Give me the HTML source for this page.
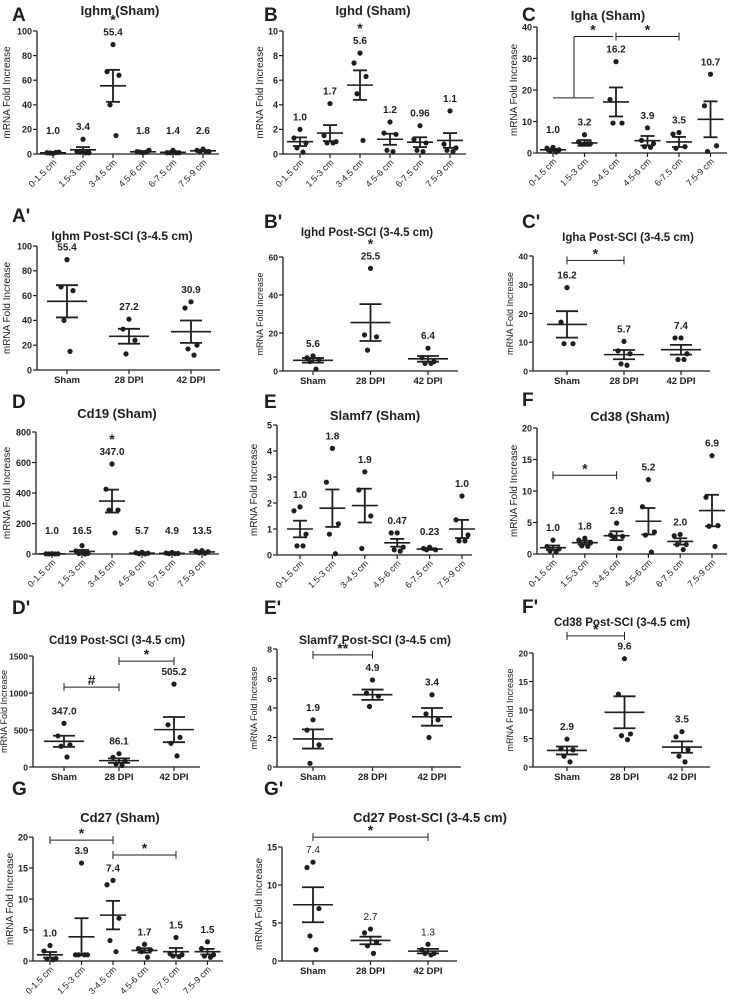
<!DOCTYPE html>
<html><head><meta charset="utf-8">
<style>
html,body{margin:0;padding:0;background:#fff;}
svg{display:block;font-family:"Liberation Sans",Arial,sans-serif;}
</style></head>
<body>
<svg id="fig" width="730" height="1002" viewBox="0 0 730 1002"></svg>
<script>
// ---------- data ----------
const distCats = ["0-1.5 cm","1.5-3 cm","3-4.5 cm","4.5-6 cm","6-7.5 cm","7.5-9 cm"];
const dpiCats = ["Sham","28 DPI","42 DPI"];

const A_ticks = [0,20,40,60,80,100];
const A_points = [[0.5,1,1.5,0.8,1.2],[12,2,1,1.5,1],[89,67,64,40,15],[1,2,3,1.5,1.5],[3,1,1,1,1],[4,3,2,2,2]];
const A_means = [1.0,3.4,55.4,1.8,1.4,2.6];
const A_sems = [0.3,2.2,13,0.4,0.4,0.5];
const A_labels = ["1.0","3.4","55.4","1.8","1.4","2.6"];
const A_stars = ["","","*","","",""];

const B_ticks = [0,2,4,6,8,10];
const B_points = [[2.0,1.3,0.9,0.5,0.15],[4.1,1.5,1.0,0.9,0.9],[8.2,7.4,6.3,4.9,1.1],[2.6,1.7,1.6,0.3,0.2],[2.3,1.2,0.9,0.3,0.2],[3.5,0.8,0.5,0.3,0.2]];
const B_means = [1.0,1.7,5.6,1.2,0.96,1.1];
const B_sems = [0.35,0.65,1.2,0.45,0.4,0.6];
const B_labels = ["1.0","1.7","5.6","1.2","0.96","1.1"];
const B_stars = ["","","*","","",""];

const C_ticks = [0,10,20,30,40];
const C_points = [[1.8,1.5,1,0.5,0.3],[5.8,3.5,3,2.8,3],[29,17,9.5,9.5],[8,4,3,2,1.8],[6.5,6,2,1.5],[25,15,2.3,0.5]];
const C_means = [1.0,3.2,16.2,3.9,3.5,10.7];
const C_sems = [0.3,0.9,4.6,1.5,1.6,5.7];
const C_labels = ["1.0","3.2","16.2","3.9","3.5","10.7"];
const C_sigFrom = [2];
const C_sigTo = [4];
const C_sigY = [37];
const C_sigText = ["*"];

const Ap_ticks = [0,20,40,60,80,100];
const Ap_points = [[89,67,64,40,15],[41,33,24,13],[55,50,20,17,12]];
const Ap_means = [55.4,27.2,30.9];
const Ap_sems = [13,6,9];
const Ap_labels = ["55.4","27.2","30.9"];

const Bp_ticks = [0,20,40,60];
const Bp_points = [[8,7,6,5,1],[54,19,18,11],[12,7,5,4,4]];
const Bp_means = [5.6,25.5,6.4];
const Bp_sems = [1.2,9.7,1.5];
const Bp_labels = ["5.6","25.5","6.4"];
const Bp_stars = ["","*",""];

const Cp_ticks = [0,10,20,30,40];
const Cp_points = [[29,17,9.5,9.5],[10.3,7,6,2.5,2],[11.5,11.5,6,4,4]];
const Cp_means = [16.2,5.7,7.4];
const Cp_sems = [4.6,1.6,1.7];
const Cp_labels = ["16.2","5.7","7.4"];
const Cp_sigFrom = [0];
const Cp_sigTo = [1];
const Cp_sigY = [38.5];
const Cp_sigText = ["*"];

const D_ticks = [0,200,400,600,800];
const D_points = [[2,1,1,0.5,0.5],[55,20,5,3,0],[590,425,288,288,138],[12,8,5,2,1],[10,6,4,2,2],[22,18,15,8,5]];
const D_means = [1.0,16.5,347,5.7,4.9,13.5];
const D_sems = [0.3,10,75,2,1.5,3];
const D_labels = ["1.0","16.5","347.0","5.7","4.9","13.5"];
const D_stars = ["","","*","","",""];

const E_ticks = [0,1,2,3,4,5];
const E_points = [[1.85,1.7,0.8,0.35,0.35],[4.1,2.8,1.2,0.8,0.05],[3.2,2.5,1.5,0.25],[0.85,0.85,0.3,0.2,0.15],[0.3,0.25,0.2,0.2],[2.27,1.35,0.77,0.54,0.54]];
const E_means = [1.0,1.8,1.9,0.47,0.23,1.0];
const E_sems = [0.32,0.72,0.65,0.15,0.03,0.35];
const E_labels = ["1.0","1.8","1.9","0.47","0.23","1.0"];

const F_ticks = [0,5,10,15,20];
const F_points = [[2.2,1.2,0.8,0.5,0.3],[2.5,2.2,1.8,1.3,1.2],[4.9,3,2.8,2.7,0.9],[11.8,7.5,3.5,3,0.3],[3.1,2.9,1.5,1.5,0.7],[15.6,9,4.5,4.4,1.2]];
const F_means = [1.0,1.8,2.9,5.2,2.0,6.9];
const F_sems = [0.35,0.3,0.7,2.1,0.5,2.5];
const F_labels = ["1.0","1.8","2.9","5.2","2.0","6.9"];
const F_sigFrom = [0];
const F_sigTo = [2];
const F_sigY = [12.5];
const F_sigText = ["*"];

const Dp_ticks = [0,500,1000,1500];
const Dp_points = [[590,420,300,280,135],[180,130,80,40,20],[1120,570,400,320,150]];
const Dp_means = [347,86.1,505.2];
const Dp_sems = [75,30,170];
const Dp_labels = ["347.0","86.1","505.2"];
const Dp_sigFrom = [0,1];
const Dp_sigTo = [1,2];
const Dp_sigY = [1080,1430];
const Dp_sigText = ["#","*"];

const Ep_ticks = [0,2,4,6,8];
const Ep_points = [[3.2,2.5,1.5,0.25],[5.9,5.0,4.8,4.1],[4.9,3.6,3.2,2.0]];
const Ep_means = [1.9,4.9,3.4];
const Ep_sems = [0.65,0.35,0.6];
const Ep_labels = ["1.9","4.9","3.4"];
const Ep_sigFrom = [0];
const Ep_sigTo = [1];
const Ep_sigY = [7.6];
const Ep_sigText = ["**"];

const Fp_ticks = [0,5,10,15,20];
const Fp_points = [[4.9,3.2,3.0,1.9,0.9],[19,12.8,5.8,5.5,4.8],[6.2,5.3,3,1.9,0.9]];
const Fp_means = [2.9,9.6,3.5];
const Fp_sems = [0.7,2.8,1.0];
const Fp_labels = ["2.9","9.6","3.5"];
const Fp_sigFrom = [0];
const Fp_sigTo = [1];
const Fp_sigY = [23];
const Fp_sigText = ["*"];

const G_ticks = [0,5,10,15,20];
const G_points = [[2.5,1.6,0.4,0.3,0.2],[15.8,1,1,1,1],[13,12.3,6.9,3.3,1.5],[2.7,2,1.8,1.5,0.6],[3.8,1.2,1,0.8,0.7],[3.1,2,1,0.8,0.6]];
const G_means = [1.0,3.9,7.4,1.7,1.5,1.5];
const G_sems = [0.45,3.0,2.3,0.35,0.6,0.45];
const G_labels = ["1.0","3.9","7.4","1.7","1.5","1.5"];
const G_sigFrom = [0,2];
const G_sigTo = [2,4];
const G_sigY = [19.5,17.1];
const G_sigText = ["*","*"];

const Gp_ticks = [0,5,10,15];
const Gp_points = [[13,12.3,6.9,3.3,1.5],[4.2,3.7,2.5,2,1],[2.2,1.5,1,1,0.8]];
const Gp_means = [7.4,2.7,1.3];
const Gp_sems = [2.3,0.5,0.3];
const Gp_labels = ["7.4","2.7","1.3"];
const Gp_sigFrom = [0];
const Gp_sigTo = [2];
const Gp_sigY = [16.3];
const Gp_sigText = ["*"];

// ---------- drawing ----------
const NS = "http://www.w3.org/2000/svg";
const fig = document.getElementById('fig');
const INK = "#1e1e1e";
function mk(tag, parent){ const e=document.createElementNS(NS,tag); parent.appendChild(e); return e; }
function line(p,x1,y1,x2,y2,w){ const l=mk('line',p); l.setAttribute('x1',x1);l.setAttribute('y1',y1);l.setAttribute('x2',x2);l.setAttribute('y2',y2);l.setAttribute('stroke',INK);l.setAttribute('stroke-width',w);return l; }
function txt(p,x,y,s,size,anchor,weight){ const t=mk('text',p); t.setAttribute('x',x);t.setAttribute('y',y);t.setAttribute('font-size',size);t.setAttribute('text-anchor',anchor||'middle');t.setAttribute('font-weight',weight||'bold');t.setAttribute('fill',INK);t.textContent=s;return t; }
const jit=[0,-6,6,-3,3];

function panel(L, d){
  const g = mk('g', fig);
  
  
  const ys = v => L.y0 - (v/L.max)*(L.y0-L.ytop);
  const xs = i => L.c0 + i*L.step;
  const six = d.cats.length===6;
  const lt = txt(g, L.lx, L.ly, L.letter, 19, 'start', 'bold');
  
  
  const tt = txt(g, L.tx, L.ty, L.title, L.tsize||13, 'middle', 'bold');
  
  
  const ya = line(g, L.ax, L.ytop, L.ax, L.y0, 1.3);
  
  
  const xa = line(g, L.ax, L.y0, L.axEnd, L.y0, 1.3);
  
  
  d.ticks.forEach(t=>{
    line(g, L.ax-4, ys(t), L.ax, ys(t), 1.2);
    const tl = txt(g, L.ax-5, ys(t)+3.3, String(t), L.fs||9, 'end', 'bold');
    
    
  });
  const yt = txt(g, 0, 0, 'mRNA Fold Increase', L.yfs||10, 'middle', 'normal');
  yt.setAttribute('transform', 'translate('+(L.ax-L.yto)+','+((L.y0+L.ytop)/2)+') rotate(-90)');
  
  
  d.cats.forEach((c,i)=>{
    const x = xs(i);
    line(g, x, L.y0, x, L.y0+4, 1.2);
    let cl;
    if(six){
      cl = txt(g, 0, 0, c, 9, 'end', 'normal');
      cl.setAttribute('transform','translate('+(x+4)+','+(L.y0+9)+') rotate(-45)');
    } else {
      cl = txt(g, x, L.y0+13, c, 9.5, 'middle', 'bold');
    }
    
    
  });
  const mw = six ? 13 : 20, cw = six ? 7 : 11;
  d.points.forEach((pts,i)=>{
    const x = xs(i);
    pts.forEach((v,j)=>{
      const c = mk('circle', g);
      c.setAttribute('cx', x + jit[j%5]);
      c.setAttribute('cy', ys(v));
      c.setAttribute('r', 2.6);
      c.setAttribute('fill', INK);
      
      
    });
    const m = d.means[i], s = d.sems[i];
    const ml = line(g, x-mw, ys(m), x+mw, ys(m), 1.6);
    
    
    const eb = line(g, x, ys(m+s), x, ys(Math.max(0,m-s)), 1.8);
    
    
    line(g, x-cw, ys(m+s), x+cw, ys(m+s), 1.8);
    line(g, x-cw, ys(Math.max(0,m-s)), x+cw, ys(Math.max(0,m-s)), 1.8);
    const top = Math.min(ys(Math.max(...pts)), ys(m+s));
    const ly = Math.min(top - 9, L.y0 - 20);
    const vl = txt(g, x, ly, d.labels[i], 10, 'middle', L.lw||'bold');
    
    
    if(d.stars && d.stars[i]){
      const st = txt(g, x, ly-11, d.stars[i], 14, 'middle', 'bold');
      
      
    }
  });
  if(d.sigFrom){
    d.sigFrom.forEach((f,k)=>{
      const x1 = xs(f), x2 = xs(d.sigTo[k]), y = ys(d.sigY[k]);
      const b = line(g, x1, y, x2, y, 1);
      
      
      line(g, x1, y-4, x1, y+4, 1);
      line(g, x2, y-4, x2, y+4, 1);
      const st = txt(g, (x1+x2)/2, y-2, d.sigText[k], 14, 'middle', 'bold');
      
      
    });
  }
  return {g, ys, xs};
}

panel({id:'A',letter:'A',lx:12,ly:21,title:'Ighm (Sham)',tx:120,ty:15,ax:37,axEnd:219,c0:53,step:30,y0:154,ytop:31,max:100,yto:27},
  {cats:distCats,ticks:A_ticks,points:A_points,means:A_means,sems:A_sems,labels:A_labels,stars:A_stars});
panel({id:'B',letter:'B',lx:264,ly:21,title:'Ighd (Sham)',tx:373,ty:15,ax:283,axEnd:466,c0:300,step:30,y0:154,ytop:31,max:10,yto:20},
  {cats:distCats,ticks:B_ticks,points:B_points,means:B_means,sems:B_sems,labels:B_labels,stars:B_stars});
const pc = panel({id:'C',letter:'C',lx:522,ly:21,title:'Igha (Sham)',tx:608,ty:20,ax:537,axEnd:727,c0:553,step:31.5,y0:153,ytop:27,max:40,yto:20},
  {cats:distCats,ticks:C_ticks,points:C_points,means:C_means,sems:C_sems,labels:C_labels,sigFrom:C_sigFrom,sigTo:C_sigTo,sigY:C_sigY,sigText:C_sigText});
(function(){
  const g = pc.g;
  const yLow = pc.ys(17.5), yTop = pc.ys(37), xv = 574;
  const h = line(g, 553, yLow, 594, yLow, 1);
  
  
  line(g, xv, yLow, xv, yTop, 1);
  line(g, xv, yTop, 613, yTop, 1);
  const st = txt(g, 593, yTop-2, '*', 14, 'middle', 'bold');
  
  
})();

panel({id:'A-prime',letter:"A'",lx:12,ly:222,title:'Ighm Post-SCI (3-4.5 cm)',tx:122,ty:240,tsize:12,ax:37,axEnd:220,c0:67,step:62,y0:370,ytop:246,max:100,yto:27},
  {cats:dpiCats,ticks:Ap_ticks,points:Ap_points,means:Ap_means,sems:Ap_sems,labels:Ap_labels});
panel({id:'B-prime',letter:"B'",lx:264,ly:228,title:'Ighd Post-SCI (3-4.5 cm)',tx:367,ty:236,tsize:11.5,ax:283,axEnd:458,c0:313,step:57.5,y0:371,ytop:257,max:60,yto:20,fs:8.5,yfs:9},
  {cats:dpiCats,ticks:Bp_ticks,points:Bp_points,means:Bp_means,sems:Bp_sems,labels:Bp_labels,stars:Bp_stars});
panel({id:'C-prime',letter:"C'",lx:522,ly:228,title:'Igha Post-SCI (3-4.5 cm)',tx:628,ty:241,tsize:11.5,ax:533,axEnd:710,c0:567,step:57,y0:371,ytop:256,max:40,yto:20,fs:8.5,yfs:9},
  {cats:dpiCats,ticks:Cp_ticks,points:Cp_points,means:Cp_means,sems:Cp_sems,labels:Cp_labels,sigFrom:Cp_sigFrom,sigTo:Cp_sigTo,sigY:Cp_sigY,sigText:Cp_sigText});

panel({id:'D',letter:'D',lx:12,ly:408,title:'Cd19 (Sham)',tx:117,ty:418,ax:36,axEnd:219,c0:52,step:30,y0:554,ytop:432,max:800,yto:26},
  {cats:distCats,ticks:D_ticks,points:D_points,means:D_means,sems:D_sems,labels:D_labels,stars:D_stars});
panel({id:'E',letter:'E',lx:264,ly:408,title:'Slamf7 (Sham)',tx:375,ty:420,ax:277,axEnd:472,c0:300,step:32.4,y0:555,ytop:425,max:5,yto:20},
  {cats:distCats,ticks:E_ticks,points:E_points,means:E_means,sems:E_sems,labels:E_labels});
panel({id:'F',letter:'F',lx:522,ly:406,title:'Cd38 (Sham)',tx:630,ty:421,ax:537,axEnd:727,c0:553,step:31.8,y0:554,ytop:428,max:20,yto:20},
  {cats:distCats,ticks:F_ticks,points:F_points,means:F_means,sems:F_sems,labels:F_labels,sigFrom:F_sigFrom,sigTo:F_sigTo,sigY:F_sigY,sigText:F_sigText});

panel({id:'D-prime',letter:"D'",lx:12,ly:614,title:'Cd19 Post-SCI (3-4.5 cm)',tx:117,ty:644,tsize:11.5,ax:33,axEnd:200,c0:64,step:55,y0:767,ytop:656,max:1500,yto:26,fs:8.5,yfs:9},
  {cats:dpiCats,ticks:Dp_ticks,points:Dp_points,means:Dp_means,sems:Dp_sems,labels:Dp_labels,sigFrom:Dp_sigFrom,sigTo:Dp_sigTo,sigY:Dp_sigY,sigText:Dp_sigText});
panel({id:'E-prime',letter:"E'",lx:264,ly:614,title:'Slamf7 Post-SCI (3-4.5 cm)',tx:375,ty:644,tsize:12,ax:277,axEnd:461,c0:313,step:59.5,y0:767,ytop:649,max:8,yto:20,fs:8.5,yfs:9},
  {cats:dpiCats,ticks:Ep_ticks,points:Ep_points,means:Ep_means,sems:Ep_sems,labels:Ep_labels,sigFrom:Ep_sigFrom,sigTo:Ep_sigTo,sigY:Ep_sigY,sigText:Ep_sigText});
panel({id:'F-prime',letter:"F'",lx:522,ly:613,title:'Cd38 Post-SCI (3-4.5 cm)',tx:622,ty:626,tsize:11.5,ax:533,axEnd:710,c0:567,step:57.5,y0:767,ytop:653,max:20,yto:20,fs:8.5,yfs:9},
  {cats:dpiCats,ticks:Fp_ticks,points:Fp_points,means:Fp_means,sems:Fp_sems,labels:Fp_labels,sigFrom:Fp_sigFrom,sigTo:Fp_sigTo,sigY:Fp_sigY,sigText:Fp_sigText});

panel({id:'G',letter:'G',lx:12,ly:795,title:'Cd27 (Sham)',tx:120,ty:822,ax:33,axEnd:223,c0:50,step:31.5,y0:961,ytop:837,max:20,yto:20},
  {cats:distCats,ticks:G_ticks,points:G_points,means:G_means,sems:G_sems,labels:G_labels,sigFrom:G_sigFrom,sigTo:G_sigTo,sigY:G_sigY,sigText:G_sigText});
panel({id:'G-prime',letter:"G'",lx:264,ly:795,title:'Cd27 Post-SCI (3-4.5 cm)',tx:430,ty:822,ax:282,axEnd:457,c0:313,step:57.5,y0:961,ytop:847,max:15,yto:20,lw:'normal'},
  {cats:dpiCats,ticks:Gp_ticks,points:Gp_points,means:Gp_means,sems:Gp_sems,labels:Gp_labels,sigFrom:Gp_sigFrom,sigTo:Gp_sigTo,sigY:Gp_sigY,sigText:Gp_sigText});
</script>
</body></html>
